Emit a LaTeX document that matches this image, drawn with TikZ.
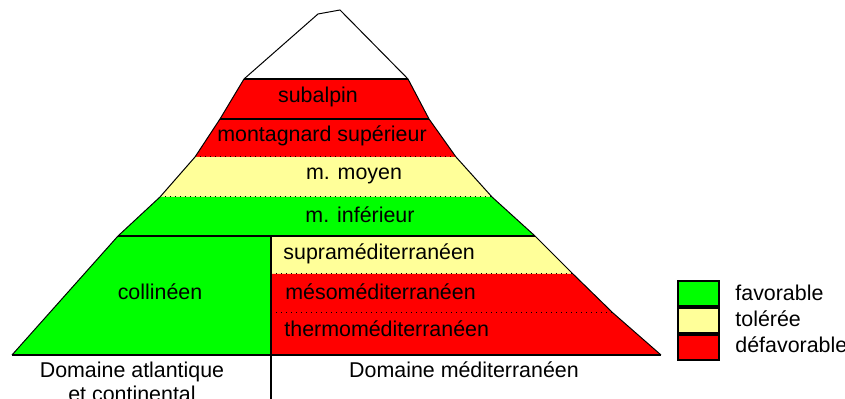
\documentclass[tikz,border=0pt]{standalone}
\usepackage{fontspec}
\setmainfont{Liberation Sans}
\usetikzlibrary{positioning}
\definecolor{favgreen}{RGB}{0,255,0}
\definecolor{tolyellow}{RGB}{255,255,153}
\definecolor{defred}{RGB}{255,0,0}
\tikzset
{
    band/.style   = {fill=#1, draw=none},
    edge/.style   = {draw=black, line width=0.5pt},
    solidsep/.style = {draw=black, line width=0.8pt},
    dotsep/.style = {draw=black, line width=0.5pt, dotted},
    label/.style  = {inner sep=0pt, font=\fontsize{10.7}{13}\selectfont},
    legendbox/.style = {draw=black, line width=1pt, fill=#1, minimum width=20.5pt, minimum height=12.5pt, inner sep=0pt}
}
\begin{document}
\begin{tikzpicture}[x=0.5pt, y=-0.5pt]
	\useasboundingbox (0,0) rectangle (845,399);
	% mountain edge points
	\coordinate (l0) at (244,79);  \coordinate (r0) at (408,79);
	\coordinate (l1) at (220,119); \coordinate (r1) at (429,119);
	\coordinate (l2) at (195,157); \coordinate (r2) at (456,157);
	\coordinate (l3) at (160,197); \coordinate (r3) at (492,197);
	\coordinate (l4) at (118,236); \coordinate (r4) at (535,236);
	\coordinate (l5) at (12,355);  \coordinate (r5) at (573,274);
	\coordinate (r6) at (613,313); \coordinate (r7) at (661,355);
	\coordinate (d4) at (271,236); \coordinate (d5) at (271,274);
	\coordinate (d6) at (271,313); \coordinate (d7) at (271,355);
	\coordinate (dend) at (271,399);

	% bands
	\fill [band=defred]    (l0) -- (r0) -- (r1) -- (l1) -- cycle;
	\fill [band=defred]    (l1) -- (r1) -- (r2) -- (l2) -- cycle;
	\fill [band=tolyellow] (l2) -- (r2) -- (r3) -- (l3) -- cycle;
	\fill [band=favgreen]  (l3) -- (r3) -- (r4) -- (l4) -- cycle;
	\fill [band=favgreen]  (l4) -- (d4) -- (d7) -- (l5) -- cycle;
	\fill [band=tolyellow] (d4) -- (r4) -- (r5) -- (d5) -- cycle;
	\fill [band=defred]    (d5) -- (r5) -- (r6) -- (d6) -- cycle;
	\fill [band=defred]    (d6) -- (r6) -- (r7) -- (d7) -- cycle;

	% summit and outline
	\draw [edge] (l0) -- (318,14) -- (340,10) -- (r0);
	\draw [edge] (l0) -- (l1) -- (l2) -- (l3) -- (l4) -- (l5);
	\draw [edge] (r0) -- (r1) -- (r2) -- (r3) -- (r4) -- (r5) -- (r6) -- (r7);
	\draw [solidsep] (l0) -- (r0);
	\draw [solidsep] (l1) -- (r1);
	\draw [dotsep] (l2) -- (r2);
	\draw [dotsep] (l3) -- (r3);
	\draw [solidsep] (l4) -- (r4);
	\draw [dotsep] (d5) -- (r5);
	\draw [dotsep] (d6) -- (r6);
	\draw [solidsep] (l5) -- (r7);
	\draw [solidsep] (d4) -- (dend);

	% band names
	\node (subalpin) [label] at (318,97) {subalpin};
	\node (montsup) [label] at (322,136) {montagnard supérieur};
	\node (mmoyen) [label] at (354,176) {m. moyen};
	\node (minf) [label] at (360,215) {m. inférieur};
	\node (supra) [label, anchor=west] at (283,254) {supraméditerranéen};
	\node (meso) [label, anchor=west] at (285,292) {mésoméditerranéen};
	\node (thermo) [label, anchor=west] at (284,329) {thermoméditerranéen};
	\node (collin) [label] at (160,292) {collinéen};

	% domains
	\node (atl) [label, align=center, anchor=north] at (132,362) {Domaine atlantique\\[-1pt]et continental};
	\node (medit) [label] at (464,370) {Domaine méditerranéen};

	% legend
	\node (legfav) [legendbox=favgreen] at (698.5,293.5) {};
	\node (legtol) [legendbox=tolyellow, below=0pt of legfav] {};
	\node (legdef) [legendbox=defred, below=0pt of legtol] {};
	\node (txtfav) [label, anchor=west] at (735,293) {favorable};
	\node (txttol) [label, anchor=west] at (735,319) {tolérée};
	\node (txtdef) [label, anchor=west] at (735,345) {défavorable};
\end{tikzpicture}
\end{document}
